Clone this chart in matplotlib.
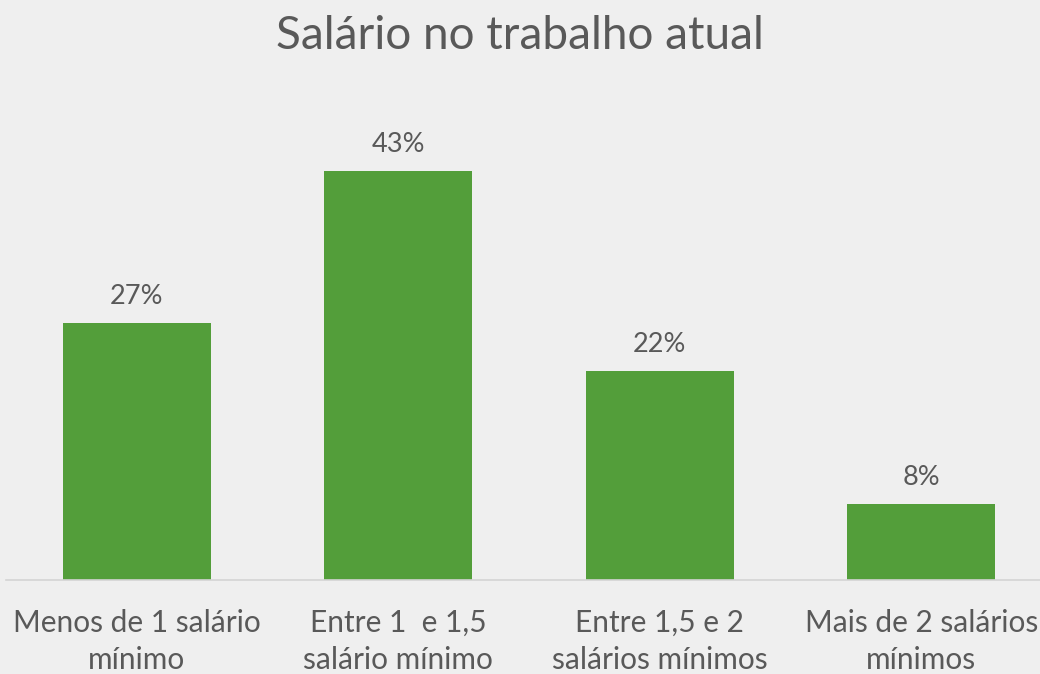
import matplotlib
matplotlib.use("Agg")
import matplotlib.pyplot as plt

categories = ["Menos de 1 salário\nmínimo", "Entre 1  e 1,5\nsalário mínimo",
              "Entre 1,5 e 2\nsalários mínimos", "Mais de 2 salários\nmínimos"]
values = [27, 43, 22, 8]
labels = ["27%", "43%", "22%", "8%"]

BG = "#efefef"
GREEN = "#539e3a"
TXT = "#595959"
plt.rcParams["font.family"] = ["Lato", "DejaVu Sans"]

W, H = 1040, 674
fig = plt.figure(figsize=(W / 100, H / 100), dpi=100, facecolor=BG)
# axes in pixel terms: baseline at y=580, one slot = 261.5 px, left edge at x=6
base, slot, left = 580, 261.5, 6
top = 104.5
ax = fig.add_axes([left / W, 1 - base / H, (W - left) / W, (base - top) / H])
ax.set_facecolor("none")
x = range(len(values))
ax.bar(x, values, width=0.566, color=GREEN)
ax.set_xlim(-0.5, -0.5 + (W - left) / slot)
ax.set_ylim(0, 50)
for xi, v, lab in zip(x, values, labels):
    ax.annotate(lab, (xi, v), xytext=(0, 10), textcoords="offset points",
                ha="center", va="bottom", fontsize=19.5, color=TXT)
ax.set_xticks(list(x))
ax.set_xticklabels(categories, fontsize=21.5, color=TXT, linespacing=1.4)
ax.tick_params(axis="x", length=0, pad=21)
ax.set_yticks([])
for s in ("top", "right", "left"):
    ax.spines[s].set_visible(False)
ax.spines["bottom"].set_color("#d4d4d4")
ax.spines["bottom"].set_linewidth(1.2)

fig.text(0.5, 1 - 36 / H, "Salário no trabalho atual", ha="center", va="center",
         fontsize=33, color=TXT)

fig.savefig("out.png", dpi=100, facecolor=BG)
